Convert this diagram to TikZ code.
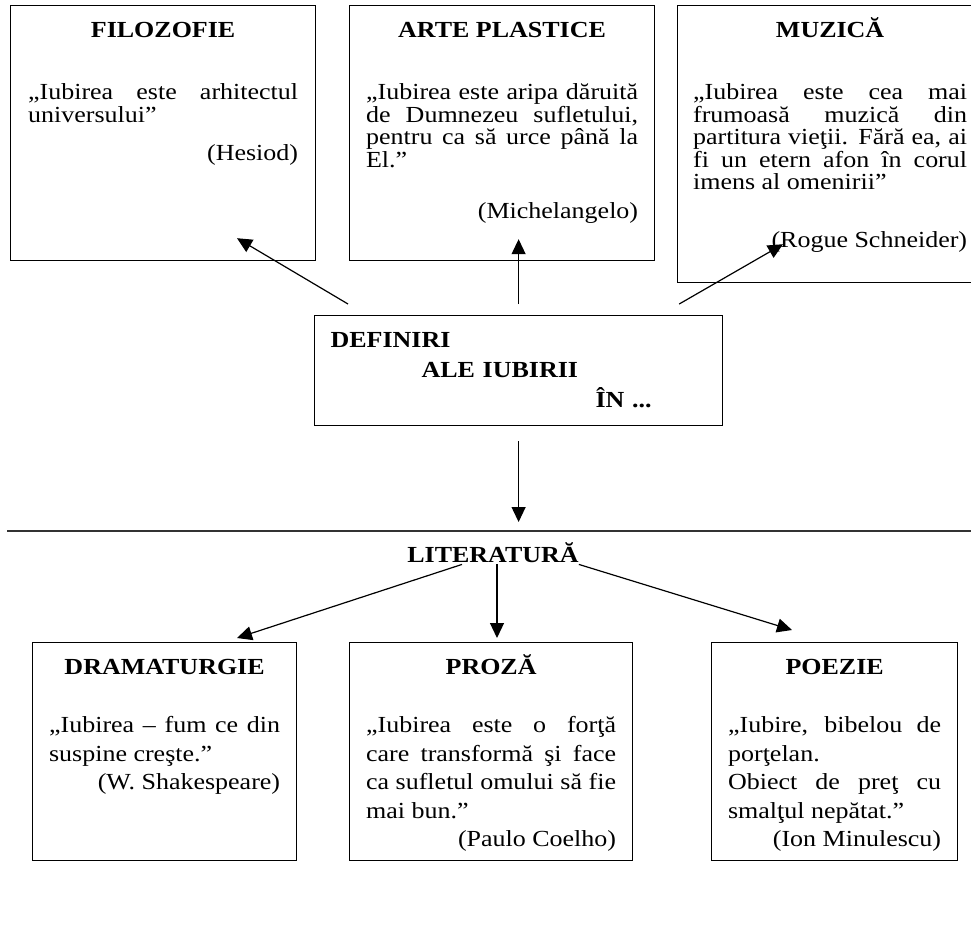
\documentclass[tikz,border=0pt]{standalone}
\usepackage{fontspec}
\setmainfont{Liberation Serif}[FakeStretch=1.13]
\usepackage{tikz}
\usetikzlibrary{arrows.meta, positioning, calc}
\hbadness=10000

\begin{document}
\begin{tikzpicture}[x=1pt, y=-1pt,
		>={Triangle[length=15pt, width=14pt]},
		box/.style={draw, line width=1.2pt, anchor=north west, align=justify, inner ysep=0pt, inner xsep=16.5pt, text height=32pt},
		upper/.style={box, font=\fontsize{23}{22.5}\selectfont},
		lower/.style={box, font=\fontsize{23}{28.5}\selectfont},
		conn/.style={->, line width=1.2pt}]
			\useasboundingbox (0,0) rectangle (971,935);
			
			% Upper boxes
			\node[upper, text width=270pt, inner xsep=17.5pt, text depth=223pt] (filo) at (10,5)
				{{\centering\bfseries FILOZOFIE\par}\vspace{39.5pt}
				„Iubirea este arhitectul\linebreak universului”\par\vspace{16pt}
				{\raggedleft (Hesiod)\par}};
			\node[upper, text width=272pt, text depth=223pt] (arte) at (349,5)
				{{\centering\bfseries ARTE PLASTICE\par}\vspace{39.5pt}
				„Iubirea este aripa dăruită\linebreak de Dumnezeu sufletului,\linebreak pentru ca să urce până la\linebreak El.”\par\vspace{29pt}
				{\raggedleft (Michelangelo)\par}};
			\node[upper, text width=274pt, inner xsep=15.5pt, text depth=245pt] (muz) at (677,5)
				{{\centering\bfseries MUZICĂ\par}\vspace{39.5pt}
				„Iubirea este cea mai\linebreak frumoasă muzică din\linebreak partitura vieţii. Fără ea, ai\linebreak fi un etern afon în corul\linebreak imens al omenirii”\par\vspace{35.5pt}
				{\raggedleft (Rogue Schneider)\par}};
			
			% Centre box
			\node[box, font=\fontsize{23}{30}\selectfont\bfseries, align=left, text width=376pt, inner xsep=16pt, text depth=78pt] (defin) at (314,315)
				{DEFINIRI\par\hspace*{91pt}ALE IUBIRII\par\hspace*{265pt}ÎN ...};
			
			% Rule and literature
			\coordinate (rulel) at (7,531);
			\coordinate (ruler) at (971,531);
			\draw[line width=1.6pt, black!80] (rulel) -- (ruler);
			\node[font=\fontsize{23}{30}\selectfont\bfseries, anchor=base, inner sep=2pt] (lit) at (493,562) {LITERATURĂ};
			
			% Lower boxes
			\node[lower, text width=231pt, text depth=186pt] (drama) at (32,642)
				{{\centering\bfseries DRAMATURGIE\par}\vspace{29.5pt}
				„Iubirea – fum ce din\linebreak suspine creşte.”\par
				{\raggedleft (W. Shakespeare)\par}};
			\node[lower, text width=250pt, text depth=186pt] (proza) at (349,642)
				{{\centering\bfseries PROZĂ\par}\vspace{29.5pt}
				„Iubirea este o forţă\linebreak care transformă şi face\linebreak ca sufletul omului să fie\linebreak mai bun.”\par
				{\raggedleft (Paulo Coelho)\par}};
			\node[lower, text width=213pt, text depth=186pt] (poez) at (711,642)
				{{\centering\bfseries POEZIE\par}\vspace{29.5pt}
				„Iubire, bibelou de\linebreak porţelan.\newline Obiect de preţ cu\linebreak smalţul nepătat.”\par
				{\raggedleft (Ion Minulescu)\par}};
			
			% Connections
			\draw[conn] ([shift={(34pt,11pt)}]defin.north west) -- ([shift={(227pt,23pt)}]filo.south west);
			\draw[conn] ([yshift=11pt]defin.north) -- ([yshift=22pt]defin.north |- arte.south);
			\draw[conn] ([shift={(-44pt,11pt)}]defin.north east) -- ([shift={(106pt,39pt)}]muz.south west);
			\draw[conn] ([yshift=-15pt]defin.south) -- ([yshift=9pt]defin.south |- rulel);
			\draw[conn] ([xshift=-31pt]lit.south) -- ([shift={(205pt,4pt)}]drama.north west);
			\draw[conn] ([xshift=4pt]lit.south) -- ([xshift=4pt, yshift=4pt]lit.south |- proza.north);
			\draw[conn] ([xshift=-2pt]lit.south east) -- ([shift={(81pt,12pt)}]poez.north west);
		\end{tikzpicture}
\end{document}
